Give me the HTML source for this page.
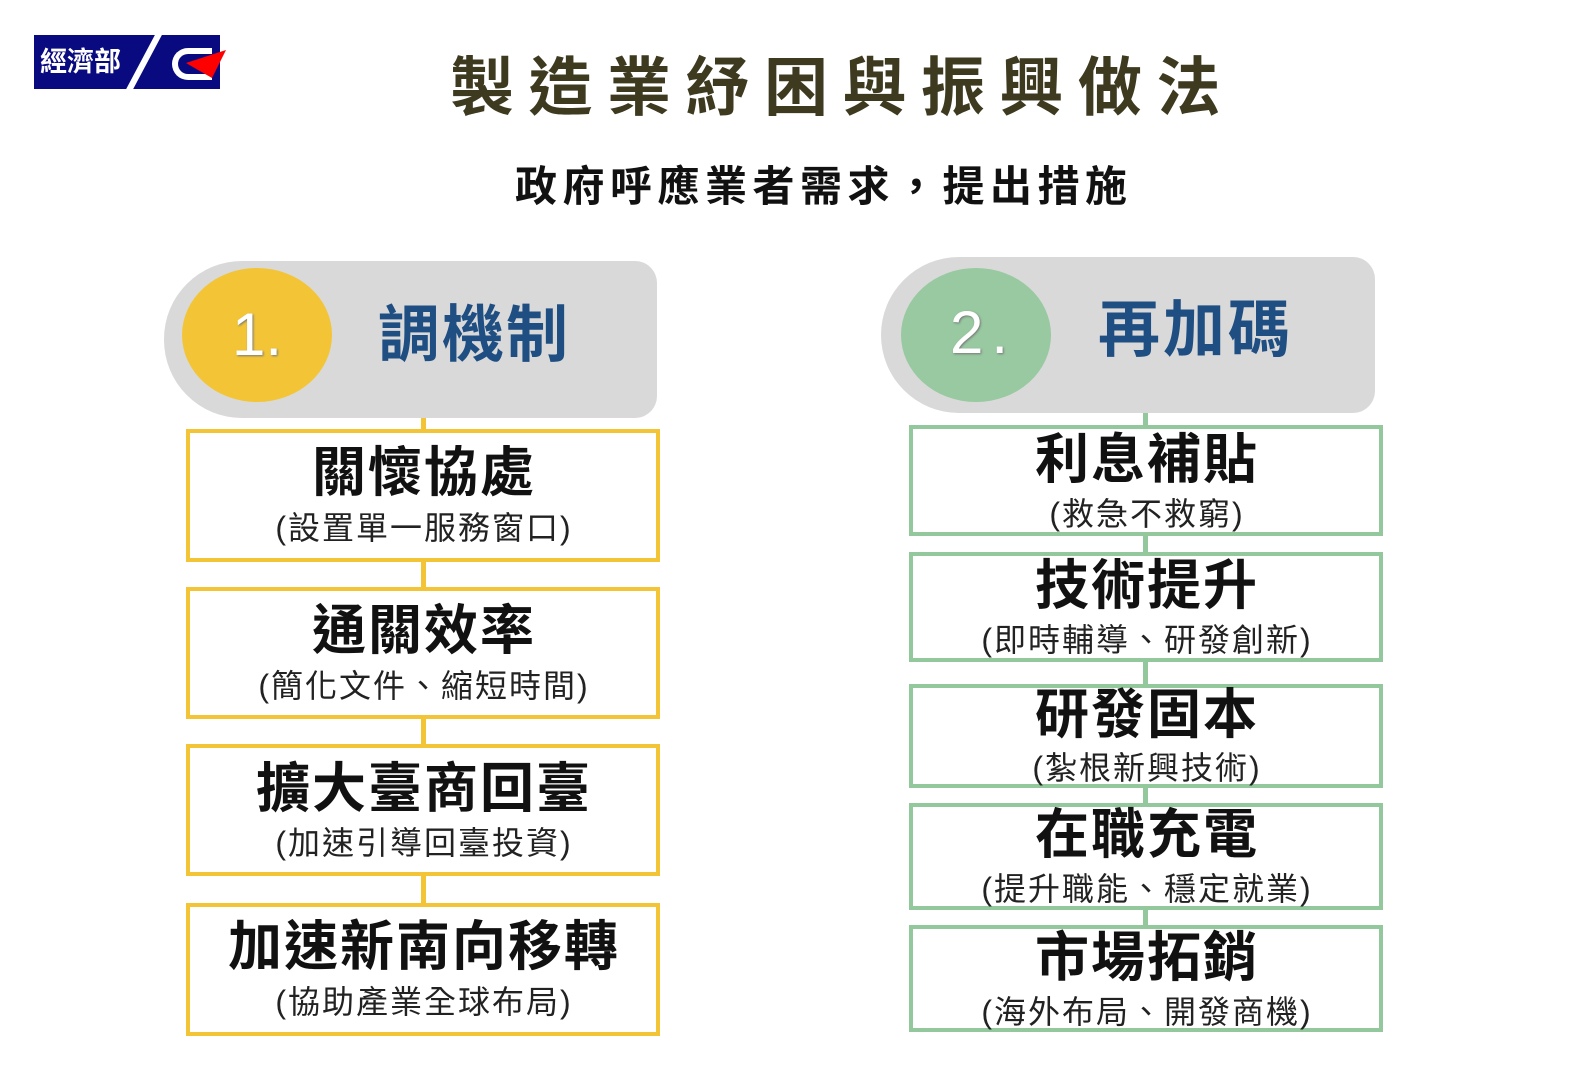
<!DOCTYPE html>
<html><head><meta charset="utf-8"><style>
body{margin:0;width:1571px;height:1079px;background:#fff;position:relative;overflow:hidden;font-family:"Liberation Sans","Noto Sans CJK TC",sans-serif}
.a{position:absolute}
.t{position:absolute;left:0;right:0;text-align:center;white-space:nowrap}
.box{position:absolute;background:#fff;box-sizing:border-box}
.y{border:4px solid #F3C536;left:186px;width:474px}
.g{border:4px solid #93C89C;left:909px;width:474px}
.h{font-weight:bold;font-size:54px;line-height:54px;color:#111;letter-spacing:2px;text-indent:2px}
.s{font-size:32px;line-height:32px;color:#222;letter-spacing:2px;text-indent:2px}
</style></head><body>
<div class="a" style="left:34px;top:35px;width:186px;height:54px;background:#0a0a80"></div>
<div class="a" style="left:140px;top:33px;width:7px;height:60px;background:#fff;transform:skewX(-28deg)"></div>
<div class="a" style="left:40px;top:44px;color:#fff;font-size:27px;font-weight:bold;line-height:36px">經濟部</div>
<div class="a" style="left:172px;top:48px;width:40px;height:32px;border:6px solid #fff;border-right:none;border-radius:22px 0 0 22px;box-sizing:border-box"></div>
<svg class="a" style="left:180px;top:45px" width="50" height="40"><polygon points="6,18 46,5 32,33" fill="#f00"/></svg>
<div class="a" style="top:52px;left:450px;font-size:64px;line-height:72px;font-weight:bold;color:#3d3a20;letter-spacing:14.5px;white-space:nowrap">製造業紓困與振興做法</div>
<div class="a" style="top:163px;left:515px;font-size:42px;line-height:48px;font-weight:bold;color:#111;letter-spacing:5.5px;white-space:nowrap">政府呼應業者需求，提出措施</div>

<div class="a" style="left:421px;top:410px;width:5px;height:500px;background:#F3C536"></div>
<div class="a" style="left:1143px;top:405px;width:5px;height:525px;background:#93C89C"></div>

<div class="a" style="left:164px;top:261px;width:493px;height:157px;background:#d9d9d9;border-radius:78px 22px 22px 78px"></div>
<div class="a" style="left:182px;top:268px;width:150px;height:134px;background:#F3C536;border-radius:50%"></div>
<div class="a" style="left:232px;top:302px;font-size:60px;color:#fff;line-height:66px;text-shadow:1px 1px 2px #777">1.</div>
<div class="a" style="left:378px;top:301px;font-size:62px;font-weight:bold;color:#1f4e82;line-height:70px;letter-spacing:2px">調機制</div>

<div class="a" style="left:881px;top:257px;width:494px;height:156px;background:#d9d9d9;border-radius:78px 22px 22px 78px"></div>
<div class="a" style="left:901px;top:268px;width:150px;height:134px;background:#98C9A0;border-radius:50%"></div>
<div class="a" style="left:950px;top:300px;font-size:60px;color:#fff;line-height:66px;letter-spacing:8px;text-shadow:1px 1px 2px #777">2.</div>
<div class="a" style="left:1098px;top:296px;font-size:62px;font-weight:bold;color:#1f4e82;line-height:70px;letter-spacing:3px">再加碼</div>

<div class="box y" style="top:429px;height:133px"></div>
<div class="t h" style="top:446px;left:186px;width:474px">關懷協處</div>
<div class="t s" style="top:512px;left:186px;width:474px">(設置單一服務窗口)</div>
<div class="box y" style="top:587px;height:132px"></div>
<div class="t h" style="top:604px;left:186px;width:474px">通關效率</div>
<div class="t s" style="top:670px;left:186px;width:474px">(簡化文件、縮短時間)</div>
<div class="box y" style="top:744px;height:132px"></div>
<div class="t h" style="top:762px;left:186px;width:474px">擴大臺商回臺</div>
<div class="t s" style="top:827px;left:186px;width:474px">(加速引導回臺投資)</div>
<div class="box y" style="top:903px;height:133px"></div>
<div class="t h" style="top:920px;left:186px;width:474px">加速新南向移轉</div>
<div class="t s" style="top:986px;left:186px;width:474px">(協助產業全球布局)</div>

<div class="box g" style="top:425px;height:111px"></div>
<div class="t h" style="top:433px;left:909px;width:474px">利息補貼</div>
<div class="t s" style="top:498px;left:909px;width:474px">(救急不救窮)</div>
<div class="box g" style="top:552px;height:110px"></div>
<div class="t h" style="top:559px;left:909px;width:474px">技術提升</div>
<div class="t s" style="top:624px;left:909px;width:474px">(即時輔導、研發創新)</div>
<div class="box g" style="top:684px;height:104px"></div>
<div class="t h" style="top:688px;left:909px;width:474px">研發固本</div>
<div class="t s" style="top:752px;left:909px;width:474px">(紮根新興技術)</div>
<div class="box g" style="top:803px;height:107px"></div>
<div class="t h" style="top:808px;left:909px;width:474px">在職充電</div>
<div class="t s" style="top:873px;left:909px;width:474px">(提升職能、穩定就業)</div>
<div class="box g" style="top:925px;height:107px"></div>
<div class="t h" style="top:931px;left:909px;width:474px">市場拓銷</div>
<div class="t s" style="top:996px;left:909px;width:474px">(海外布局、開發商機)</div>
</body></html>
